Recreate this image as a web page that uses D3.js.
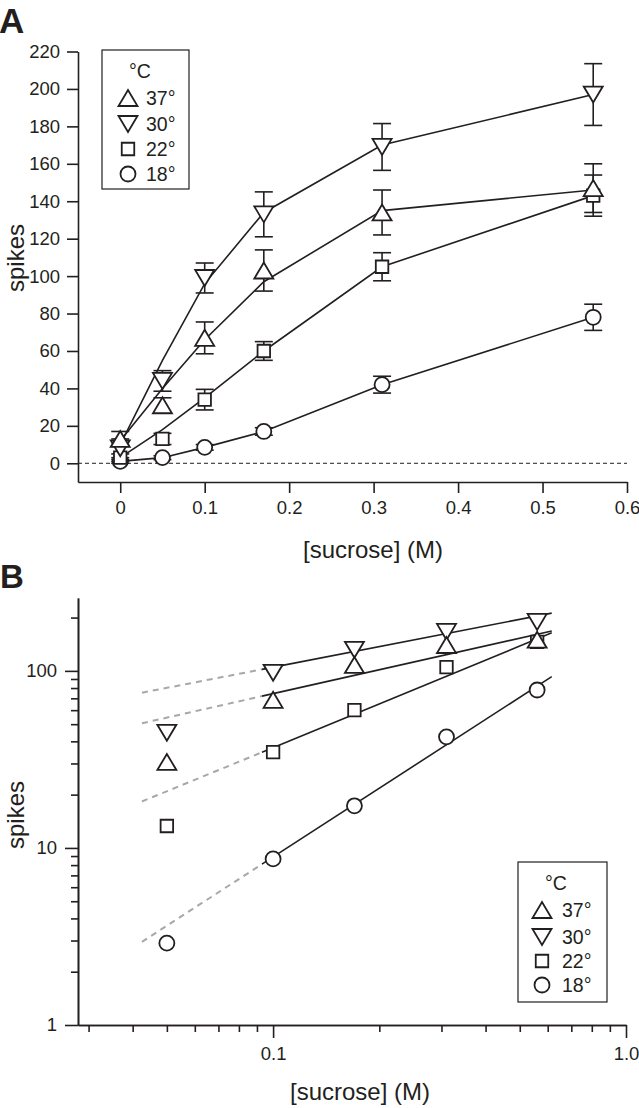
<!DOCTYPE html>
<html>
<head>
<meta charset="utf-8">
<script src="https://cdn.jsdelivr.net/npm/d3@7"></script>
<style>
  html, body { margin: 0; padding: 0; background: #fff; }
  svg { display: block; font-family: "Liberation Sans", Arial, Helvetica, sans-serif; }
</style>
</head>
<body>
<svg id="chart" width="639" height="1108"></svg>
<script>
// ---------------- DATA ----------------
const temps = ["37°", "30°", "22°", "18°"];
const shapes = ["triUp", "triDown", "square", "circle"];

// Panel A (linear)
const concA = [0, 0.05, 0.1, 0.17, 0.31, 0.56];
const mean37 = [13, 31, 67, 103, 134, 147];
const err37  = [4, 4, 8.5, 11, 12, 13];
const mean30 = [8, 44, 99, 133, 169, 197];
const err30  = [5, 5.5, 8, 12, 12.5, 16.5];
const mean22 = [3, 13, 34, 60, 105, 143];
const err22  = [2, 3, 5.5, 5, 7.5, 11];
const mean18 = [1, 3, 8.5, 17, 42, 78];
const err18  = [1, 1, 1.5, 2, 4.5, 7];
// fitted curves drawn in panel A
const curve37 = [12, 40, 66, 97, 135, 146];
const curve30 = [10, 55, 96, 134, 170, 197];
const curve22 = [3, 18, 35, 60, 105, 143];
const curve18 = [1, 3, 8.5, 17, 42, 78];

// Panel B (log-log)
const concB = [0.05, 0.1, 0.17, 0.31, 0.56];
const logMean37 = [30.6, 68.6, 108, 140, 150];
const logMean30 = [44.7, 97.5, 131.5, 166, 189];
const logMean22 = [13.3, 34.8, 60, 105, 146];
const logMean18 = [2.9, 8.67, 17.3, 42.4, 78];
// power-law fit lines: dashed from fitX[0] to fitX[1], solid from fitX[1] to fitX[2]
const fitX = [0.0425, 0.093, 0.616];
const fit37 = [50.6, 72, 168];
const fit30 = [75.3, 102, 212];
const fit22 = [18.3, 34.7, 164];
const fit18 = [2.95, 8.1, 92.8];

// ticks
const ticksAY = [0, 20, 40, 60, 80, 100, 120, 140, 160, 180, 200, 220];
const ticksAX = [0, 0.1, 0.2, 0.3, 0.4, 0.5, 0.6];
const ticksAXLabels = ["0", "0.1", "0.2", "0.3", "0.4", "0.5", "0.6"];
const ticksBYMajor = [1, 10, 100];
const ticksBYMinor = [2, 3, 4, 5, 6, 7, 8, 9, 20, 30, 40, 50, 60, 70, 80, 90, 200];
const ticksBXMajor = [0.1, 1];
const ticksBXLabels = ["0.1", "1.0"];
const ticksBXMinor = [0.03, 0.04, 0.05, 0.06, 0.07, 0.08, 0.09, 0.2, 0.3, 0.4, 0.5, 0.6, 0.7, 0.8, 0.9];

// ---------------- SETUP ----------------
const INK = "#231f20";
const TICK_FS = 18.5;
const svg = d3.select("#chart");

const seriesA = [
  { mean: mean37, err: err37, curve: curve37 },
  { mean: mean30, err: err30, curve: curve30 },
  { mean: mean22, err: err22, curve: curve22 },
  { mean: mean18, err: err18, curve: curve18 }
];
const seriesB = [
  { mean: logMean37, fit: fit37 },
  { mean: logMean30, fit: fit30 },
  { mean: logMean22, fit: fit22 },
  { mean: logMean18, fit: fit18 }
];

function markerPath(shape) {
  const w = 19, h = 16, s = 12.5, r = 7.5;
  const p = d3.path();
  if (shape === "triUp") {
    p.moveTo(-w / 2, h / 2); p.lineTo(w / 2, h / 2); p.lineTo(0, -h / 2); p.closePath();
  } else if (shape === "triDown") {
    p.moveTo(-w / 2, -h / 2); p.lineTo(w / 2, -h / 2); p.lineTo(0, h / 2); p.closePath();
  } else if (shape === "square") {
    p.rect(-s / 2, -s / 2, s, s);
  } else {
    p.arc(0, 0, r, 0, 2 * Math.PI);
  }
  return p.toString();
}

function styleAxis(g, fontSize) {
  g.selectAll("path.domain").attr("stroke", INK).attr("stroke-width", 1.6);
  g.selectAll(".tick line").attr("stroke", INK).attr("stroke-width", 1.6);
  g.selectAll(".tick text").attr("fill", INK).attr("font-size", fontSize)
    .attr("font-family", "'Liberation Sans', Arial, sans-serif");
}

function legend(x0, y0, w, h, symX, textX, rowYs, titleX, titleY) {
  const g = svg.append("g");
  g.append("rect").attr("x", x0).attr("y", y0).attr("width", w).attr("height", h)
    .attr("fill", "#fff").attr("stroke", INK).attr("stroke-width", 1.2);
  g.append("text").attr("x", titleX).attr("y", titleY).attr("text-anchor", "middle")
    .attr("dominant-baseline", "central").attr("font-size", 19.5).attr("fill", INK).text("°C");
  temps.forEach((t, i) => {
    g.append("path").attr("d", markerPath(shapes[i]))
      .attr("transform", `translate(${symX},${rowYs[i]})`)
      .attr("fill", "#fff").attr("stroke", INK).attr("stroke-width", 1.8);
    g.append("text").attr("x", textX).attr("y", rowYs[i]).attr("dominant-baseline", "central")
      .attr("font-size", 19.5).attr("fill", INK).text(t);
  });
}

// ---------------- PANEL A ----------------
const xA = d3.scaleLinear().domain([-0.05, 0.6]).range([78, 627]);
const yA = d3.scaleLinear().domain([-10, 220]).range([482, 51.5]);

svg.append("text").attr("x", -1).attr("y", 33).attr("font-size", 35).attr("font-weight", "bold")
  .attr("fill", INK).text("A");

// zero dashed line
svg.append("line").attr("x1", xA(-0.05)).attr("x2", xA(0.6)).attr("y1", yA(0)).attr("y2", yA(0))
  .attr("stroke", INK).attr("stroke-width", 1).attr("stroke-dasharray", "4,3");

const axAY = svg.append("g").attr("transform", `translate(${xA(-0.05)},0)`)
  .call(d3.axisLeft(yA).tickValues(ticksAY).tickSize(11).tickSizeOuter(0).tickPadding(7));
styleAxis(axAY, TICK_FS);
const axAX = svg.append("g").attr("transform", `translate(0,${yA(-10)})`)
  .call(d3.axisBottom(xA).tickValues(ticksAX).tickSize(11).tickSizeOuter(0).tickPadding(8)
    .tickFormat((d, i) => ticksAXLabels[i]));
styleAxis(axAX, TICK_FS);

svg.append("text").attr("transform", "translate(24,258) rotate(-90)").attr("text-anchor", "middle")
  .attr("font-size", 24).attr("fill", INK).text("spikes");
svg.append("text").attr("x", 373).attr("y", 558).attr("text-anchor", "middle")
  .attr("font-size", 24).attr("fill", INK).text("[sucrose] (M)");

const lineA = d3.line().x((d, i) => xA(concA[i])).y(d => yA(d));
const gLinesA = svg.append("g");
const gErrA = svg.append("g");
const gMarkA = svg.append("g");
const capW = 9;
seriesA.slice().reverse().forEach((s, ri) => {
  const i = seriesA.length - 1 - ri;
  gLinesA.append("path").attr("d", lineA(s.curve)).attr("fill", "none")
    .attr("stroke", INK).attr("stroke-width", 1.6);
  s.mean.forEach((m, j) => {
    const cx = xA(concA[j]), top = yA(m + s.err[j]), bot = yA(m - s.err[j]);
    gErrA.append("line").attr("x1", cx).attr("x2", cx).attr("y1", top).attr("y2", bot)
      .attr("stroke", INK).attr("stroke-width", 1.6);
    [top, bot].forEach(yy => gErrA.append("line").attr("x1", cx - capW).attr("x2", cx + capW)
      .attr("y1", yy).attr("y2", yy).attr("stroke", INK).attr("stroke-width", 1.6));
    gMarkA.append("path").attr("d", markerPath(shapes[i]))
      .attr("transform", `translate(${cx},${yA(m)})`)
      .attr("fill", "#fff").attr("stroke", INK).attr("stroke-width", 1.8);
  });
});

legend(102, 50, 87, 139, 128, 146, [98, 124, 149, 174], 140, 71);

// ---------------- PANEL B ----------------
const xB = d3.scaleLog().domain([0.028, 1]).range([78, 626]);
const yB = d3.scaleLog().domain([1, 258]).range([1025, 598]);

svg.append("text").attr("x", 0).attr("y", 588).attr("font-size", 33).attr("font-weight", "bold")
  .attr("fill", INK).text("B");

const axBYmin = svg.append("g").attr("transform", `translate(${xB(0.028)},0)`)
  .call(d3.axisLeft(yB).tickValues(ticksBYMinor).tickSize(7).tickSizeOuter(0).tickFormat(""));
styleAxis(axBYmin, TICK_FS);
const axBY = svg.append("g").attr("transform", `translate(${xB(0.028)},0)`)
  .call(d3.axisLeft(yB).tickValues(ticksBYMajor).tickSize(13).tickSizeOuter(0).tickPadding(8)
    .tickFormat(d3.format("d")));
styleAxis(axBY, TICK_FS);
const axBXmin = svg.append("g").attr("transform", `translate(0,${yB(1)})`)
  .call(d3.axisBottom(xB).tickValues(ticksBXMinor).tickSize(7).tickSizeOuter(0).tickFormat(""));
styleAxis(axBXmin, TICK_FS);
const axBX = svg.append("g").attr("transform", `translate(0,${yB(1)})`)
  .call(d3.axisBottom(xB).tickValues(ticksBXMajor).tickSize(13).tickSizeOuter(0).tickPadding(9)
    .tickFormat((d, i) => ticksBXLabels[i]));
styleAxis(axBX, TICK_FS);

svg.append("text").attr("transform", "translate(24,815) rotate(-90)").attr("text-anchor", "middle")
  .attr("font-size", 24).attr("fill", INK).text("spikes");
svg.append("text").attr("x", 360).attr("y", 1100).attr("text-anchor", "middle")
  .attr("font-size", 24).attr("fill", INK).text("[sucrose] (M)");

const gLinesB = svg.append("g");
const gMarkB = svg.append("g");
seriesB.slice().reverse().forEach((s, ri) => {
  const i = seriesB.length - 1 - ri;
  gLinesB.append("line").attr("x1", xB(fitX[0])).attr("y1", yB(s.fit[0]))
    .attr("x2", xB(fitX[1])).attr("y2", yB(s.fit[1]))
    .attr("stroke", "#a8a8a8").attr("stroke-width", 2).attr("stroke-dasharray", "6,5");
  gLinesB.append("line").attr("x1", xB(fitX[1])).attr("y1", yB(s.fit[1]))
    .attr("x2", xB(fitX[2])).attr("y2", yB(s.fit[2]))
    .attr("stroke", INK).attr("stroke-width", 1.6);
  s.mean.forEach((m, j) => {
    gMarkB.append("path").attr("d", markerPath(shapes[i]))
      .attr("transform", `translate(${xB(concB[j])},${yB(m)})`)
      .attr("fill", "#fff").attr("stroke", INK).attr("stroke-width", 1.8);
  });
});

legend(518, 862, 89, 140, 542, 562, [910, 937, 961, 985], 556, 883);
</script>
</body>
</html>
